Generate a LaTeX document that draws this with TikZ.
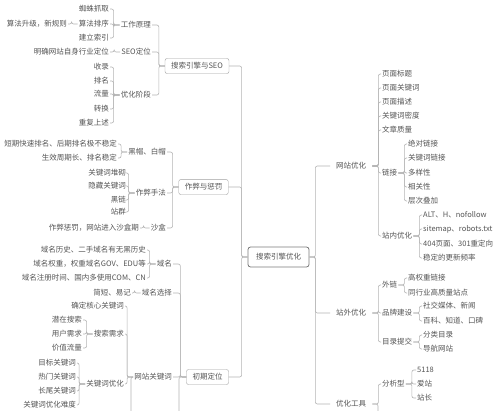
\documentclass[tikz,border=0pt]{standalone}
\usepackage{fontspec}
\newfontfamily\cjk{Noto Sans CJK SC}
\usepackage{tikz}
\definecolor{txtgray}{HTML}{555555}
\definecolor{lngray}{HTML}{B4B4B4}
\definecolor{boxgray}{HTML}{A0A0A0}
\definecolor{rootgray}{HTML}{7A7A7A}
\tikzset{
	leaf/.style={font=\cjk\fontsize{7.5}{9}\selectfont,text=txtgray,inner sep=1pt},
	lnode/.style={leaf,anchor=east},
	rnode/.style={leaf,anchor=west},
	topic node/.style={leaf,draw=boxgray,fill=white,rounded corners=2pt,inner xsep=6pt,inner ysep=4pt},
	branch node/.style={leaf,inner xsep=6pt,anchor=west},
	root node/.style={leaf,draw=rootgray,fill=white,line width=0.8pt,rounded corners=2.5pt,inner xsep=8pt,inner ysep=6.5pt},
	link/.style={draw=lngray,line width=0.6pt,rounded corners=2pt}
}

\begin{document}
\begin{tikzpicture}[x=1pt,y=-1pt]
	\useasboundingbox (0,0) rectangle (500,410);
	\clip (0,0) rectangle (500,410);
	\fill[white] (0,0) rectangle (500,410);
	\node [root node] (0) at (278.5,257) {搜索引擎优化};
	% left side
	\node [topic node] (1) at (197,66) {搜索引擎与SEO};
	\node [lnode] (2) at (152,25) {工作原理};
	\node [lnode] (3) at (152,52) {SEO定位};
	\node [lnode] (4) at (152,95) {优化阶段};
	\node [lnode] (5) at (110,9) {蜘蛛抓取};
	\node [lnode] (6) at (110,24) {算法排序};
	\node [lnode] (7) at (110,38) {建立索引};
	\node [lnode] (8) at (68,24) {算法升级，新规则};
	\node [lnode] (9) at (110,52) {明确网站自身行业定位};
	\node [lnode] (10) at (110,67) {收录};
	\node [lnode] (11) at (110,81) {排名};
	\node [lnode] (12) at (110,94) {流量};
	\node [lnode] (13) at (110,109) {转换};
	\node [lnode] (14) at (110,123) {重复上述};
	\node [topic node] (15) at (203.5,187) {作弊与惩罚};
	\node [lnode] (16) at (167,152) {黑帽、白帽};
	\node [lnode] (17) at (167,193) {作弊手法};
	\node [lnode] (18) at (167,228) {沙盒};
	\node [lnode] (19) at (118,144) {短期快速排名、后期排名极不稳定};
	\node [lnode] (20) at (118,158) {生效周期长、排名稳定};
	\node [lnode] (21) at (127,173) {关键词堆砌};
	\node [lnode] (22) at (127,186) {隐藏关键词};
	\node [lnode] (23) at (127,200) {黑链};
	\node [lnode] (24) at (127,212) {站群};
	\node [lnode] (25) at (140,228) {作弊惩罚，网站进入沙盒期};
	\node [topic node] (26) at (207.5,377) {初期定位};
	\node [lnode] (27) at (173,264) {域名};
	\node [lnode] (28) at (173,293) {域名选择};
	\node [lnode] (29) at (173,377) {网站关键词};
	\node [lnode] (30) at (147,250) {域名历史、二手域名有无黑历史};
	\node [lnode] (31) at (147,264) {域名权重，权重域名GOV、EDU等};
	\node [lnode] (32) at (147,278) {域名注册时间、国内多使用COM、CN};
	\node [lnode] (33) at (132,293) {简短、易记};
	\node [lnode] (34) at (125,306) {确定核心关键词};
	\node [lnode] (35) at (125,334) {搜索需求};
	\node [lnode] (36) at (125,384) {关键词优化};
	\node [lnode] (37) at (83,320) {潜在搜索};
	\node [lnode] (38) at (83,334) {用户需求};
	\node [lnode] (39) at (83,348) {价值流量};
	\node [lnode] (40) at (77,363) {目标关键词};
	\node [lnode] (41) at (77,377) {热门关键词};
	\node [lnode] (42) at (77,391) {长尾关键词};
	\node [lnode] (43) at (77,405) {关键词优化难度};
	% right side
	\node [branch node] (44) at (330,166) {网站优化};
	\node [branch node] (45) at (330,313) {站外优化};
	\node [branch node] (46) at (330,404) {优化工具};
	\node [rnode] (47) at (381,74) {页面标题};
	\node [rnode] (48) at (381,88) {页面关键词};
	\node [rnode] (49) at (381,102) {页面描述};
	\node [rnode] (50) at (381,116) {关键词密度};
	\node [rnode] (51) at (381,130) {文章质量};
	\node [rnode] (52) at (381,173) {链接};
	\node [rnode] (53) at (381,236) {站内优化};
	\node [rnode] (54) at (407,144) {绝对链接};
	\node [rnode] (55) at (407,158) {关键词链接};
	\node [rnode] (56) at (407,173) {多样性};
	\node [rnode] (57) at (407,187) {相关性};
	\node [rnode] (58) at (407,201) {层次叠加};
	\node [rnode] (59) at (422,215) {ALT、H、nofollow};
	\node [rnode] (60) at (422,229) {sitemap、robots.txt};
	\node [rnode] (61) at (422,244) {404页面、301重定向};
	\node [rnode] (62) at (422,258) {稳定的更新频率};
	\node [rnode] (63) at (381,285) {外链};
	\node [rnode] (64) at (381,313) {品牌建设};
	\node [rnode] (65) at (381,342) {目录提交};
	\node [rnode] (66) at (407,278) {高权重链接};
	\node [rnode] (67) at (407,293) {同行业高质量站点};
	\node [rnode] (68) at (422,306) {社交媒体、新闻};
	\node [rnode] (69) at (422,321) {百科、知道、口碑};
	\node [rnode] (70) at (422,335) {分类目录};
	\node [rnode] (71) at (422,349) {导航网站};
	\node [rnode] (72) at (381,384) {分析型};
	\node [rnode] (73) at (416,370) {5118};
	\node [rnode] (74) at (416,384) {爱站};
	\node [rnode] (75) at (416,398) {站长};
	% branches running on below the page
	\coordinate (76) at (179,425);
	\coordinate (77) at (131,425);
	\coordinate (78) at (378,425);
	\foreach \c/\p in {1/0,15/0,26/0,2/1,3/1,4/1,5/2,6/2,7/2,8/6,9/3,10/4,11/4,12/4,13/4,14/4,
			16/15,17/15,18/15,19/16,20/16,21/17,22/17,23/17,24/17,25/18,
			27/26,28/26,29/26,30/27,31/27,32/27,33/28,34/29,35/29,36/29,
			37/35,38/35,39/35,40/36,41/36,42/36,43/36}
		\draw [link] (\c.east) -| ([xshift=-6pt]\p.west) -- (\p.west);
	\foreach \c/\p in {44/0,45/0,46/0,47/44,48/44,49/44,50/44,51/44,52/44,53/44,
			54/52,55/52,56/52,57/52,58/52,59/53,60/53,61/53,62/53,
			63/45,64/45,65/45,66/63,67/63,68/64,69/64,70/65,71/65,72/46,73/72,74/72,75/72}
		\draw [link] (\c.west) -| ([xshift=6pt]\p.east) -- (\p.east);
	\draw [link] (76) |- (26.west);
	\draw [link] (77) |- (29.west);
	\draw [link] (78) |- (46.east);
\end{tikzpicture}
\end{document}
